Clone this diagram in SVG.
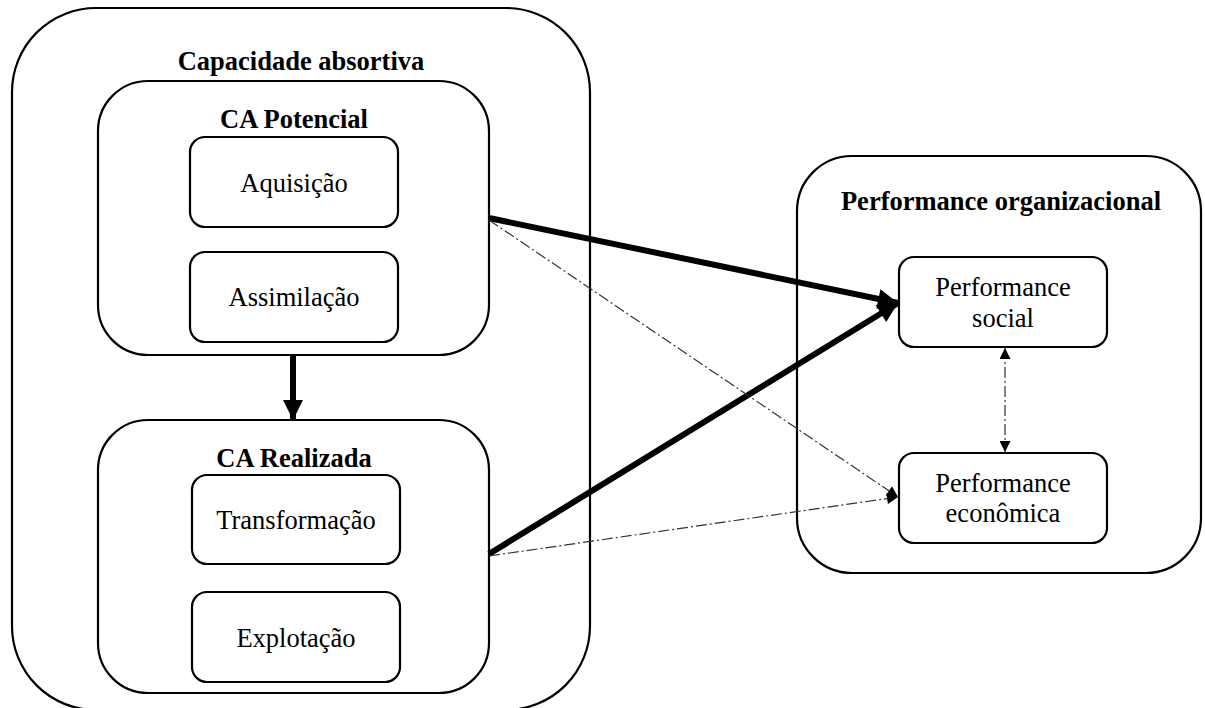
<svg xmlns="http://www.w3.org/2000/svg" width="1205" height="708" viewBox="0 0 1205 708">
  <style>
    .box { fill: #fff; stroke: #000; stroke-width: 2.2; }
    .title { font-family: "Liberation Serif", "Times New Roman", serif; font-size: 26.5px; font-weight: bold; text-anchor: middle; fill: #000; }
    .label { font-family: "Liberation Serif", "Times New Roman", serif; font-size: 26.5px; text-anchor: middle; fill: #000; }
    .thick { stroke: #000; stroke-width: 6; fill: none; }
    .dashdot { stroke: #333; stroke-width: 1.2; fill: none; stroke-dasharray: 11 3 2 3; }
  </style>
  <defs>
    <marker id="headBig" viewBox="0 0 10 10" refX="10" refY="5" markerUnits="userSpaceOnUse" markerWidth="22" markerHeight="20" orient="auto">
      <path d="M0,0 L10,5 L0,10 z" fill="#000"/>
    </marker>
    <marker id="headSmall" viewBox="0 0 10 10" refX="10" refY="5" markerUnits="userSpaceOnUse" markerWidth="13" markerHeight="11" orient="auto-start-reverse">
      <path d="M0,0 L10,5 L0,10 z" fill="#000"/>
    </marker>
  </defs>

  <!-- Absorptive capacity container (runs off the bottom edge) -->
  <g id="capacidade-absortiva">
    <rect class="box" x="12" y="8" width="578" height="702" rx="84" ry="84"/>
    <text class="title" x="301" y="70">Capacidade absortiva</text>
  </g>

  <g id="ca-potencial">
    <rect class="box" x="98" y="81" width="391" height="274" rx="50" ry="50"/>
    <text class="title" x="294" y="128">CA Potencial</text>
  </g>
  <g id="aquisicao">
    <rect class="box" x="190" y="137" width="208" height="90" rx="15" ry="15"/>
    <text class="label" x="294" y="192">Aquisição</text>
  </g>
  <g id="assimilacao">
    <rect class="box" x="190" y="252" width="208" height="90" rx="15" ry="15"/>
    <text class="label" x="294" y="306">Assimilação</text>
  </g>

  <g id="ca-realizada">
    <rect class="box" x="98" y="420" width="391" height="273" rx="50" ry="50"/>
    <text class="title" x="294" y="467">CA Realizada</text>
  </g>
  <g id="transformacao">
    <rect class="box" x="192" y="475" width="208" height="89" rx="15" ry="15"/>
    <text class="label" x="296" y="529">Transformação</text>
  </g>
  <g id="explotacao">
    <rect class="box" x="192" y="592" width="208" height="90" rx="15" ry="15"/>
    <text class="label" x="296" y="647">Explotação</text>
  </g>

  <!-- Organisational performance container -->
  <g id="performance-organizacional">
    <rect class="box" x="797" y="156" width="404" height="417" rx="55" ry="55"/>
    <text class="title" x="1001" y="210">Performance organizacional</text>
  </g>
  <g id="performance-social">
    <rect class="box" x="899" y="257" width="208" height="90" rx="15" ry="15"/>
    <text class="label" x="1003" y="296">Performance</text>
    <text class="label" x="1003" y="327">social</text>
  </g>
  <g id="performance-economica">
    <rect class="box" x="899" y="453" width="208" height="90" rx="15" ry="15"/>
    <text class="label" x="1003" y="492">Performance</text>
    <text class="label" x="1003" y="522">econômica</text>
  </g>

  <!-- Connectors -->
  <g id="connectors">
    <line class="thick" x1="293" y1="355" x2="293" y2="420" marker-end="url(#headBig)"/>
    <line class="thick" x1="489" y1="218" x2="898" y2="303" marker-end="url(#headBig)"/>
    <line class="thick" x1="489" y1="554" x2="898" y2="303" marker-end="url(#headBig)"/>
    <line class="dashdot" x1="489" y1="220" x2="898" y2="497" marker-end="url(#headSmall)"/>
    <line class="dashdot" x1="489" y1="556" x2="898" y2="497" marker-end="url(#headSmall)"/>
    <line class="dashdot" x1="1005" y1="348" x2="1005" y2="452" marker-start="url(#headSmall)" marker-end="url(#headSmall)"/>
  </g>
</svg>
